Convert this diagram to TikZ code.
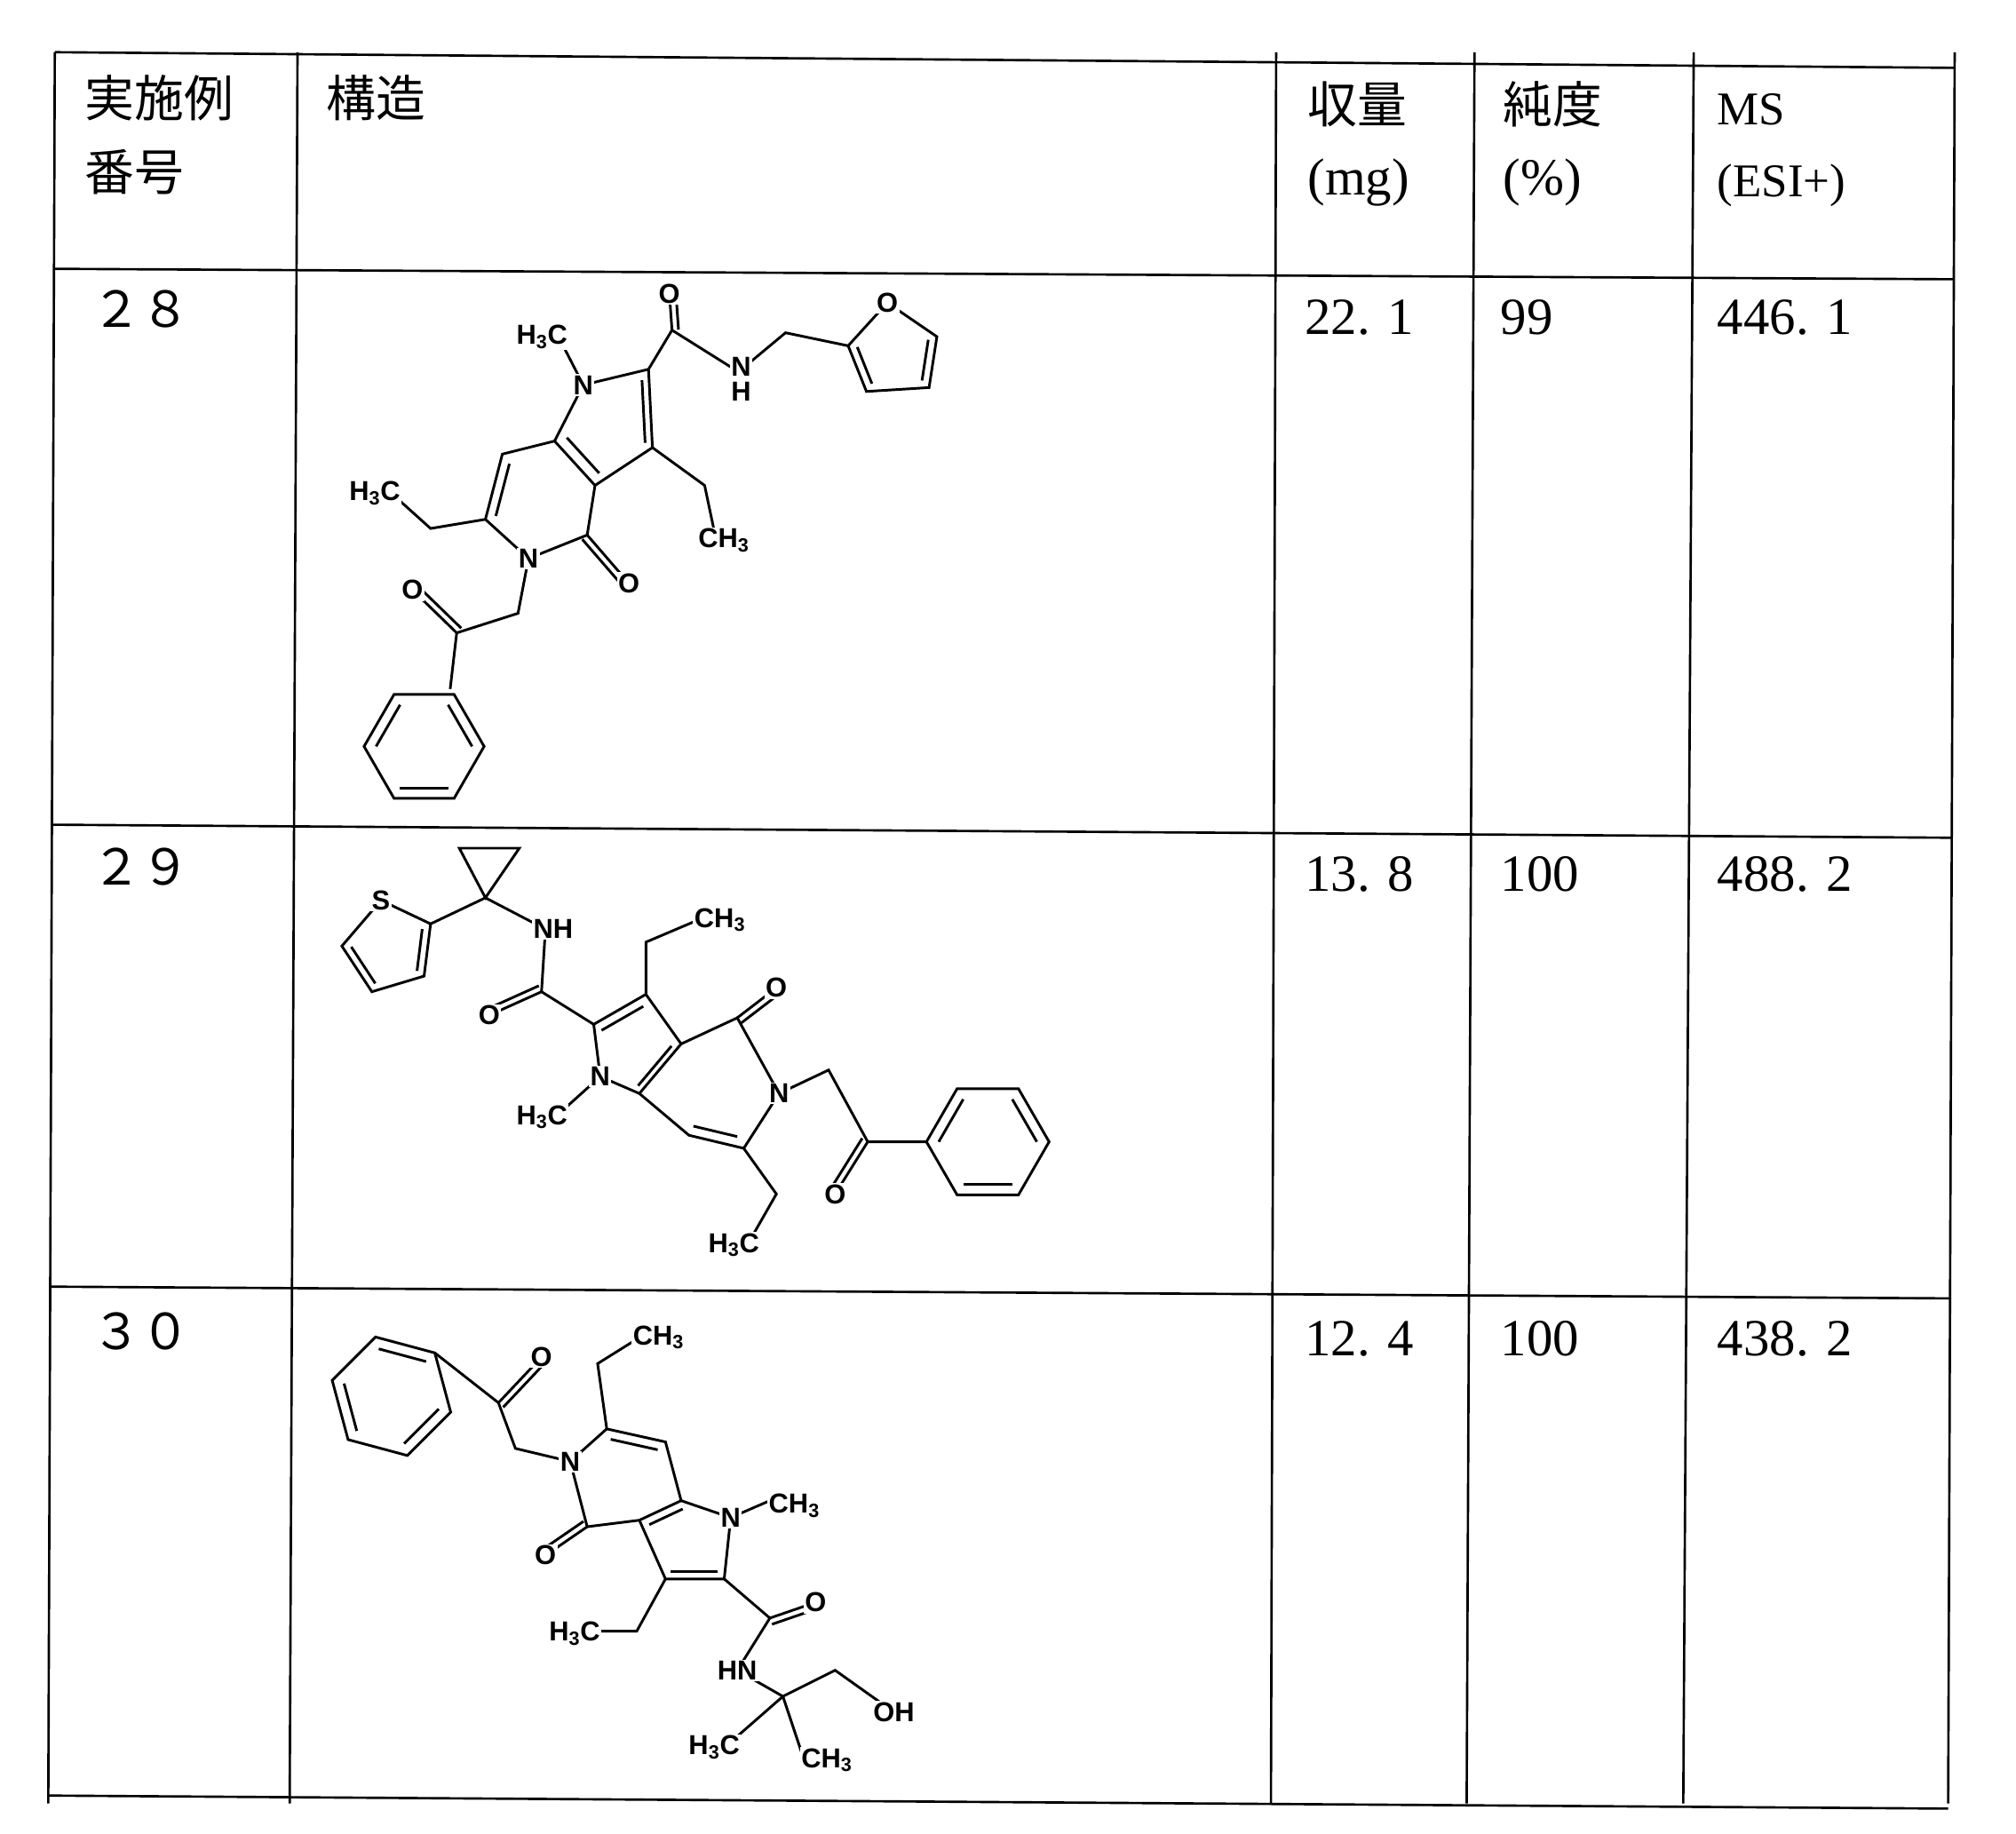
\documentclass[tikz,border=0pt]{standalone}
\usepackage{fontspec}
\setmainfont{Liberation Serif}
\setsansfont{Liberation Sans}
\newfontfamily\cjk{Noto Sans CJK JP}
\usetikzlibrary{calc}
\tikzset{
  grid/.style={line width=1.8pt},
  hdr/.style={anchor=west, inner sep=0pt, font=\cjk\fontsize{38}{40}\selectfont},
  dat/.style={anchor=west, inner sep=0pt, font=\fontsize{40}{42}\selectfont},
  bond/.style={line width=2pt},
  atom/.style={fill=white, inner sep=1pt, font=\sffamily\bfseries\fontsize{21}{22}\selectfont},
}
\newcommand{\dbl}[2]{\draw[bond] ($(#1)!5pt!-90:(#2)$) -- ($(#2)!5pt!90:(#1)$);}
\newcommand{\inner}[3]{\draw[bond] ($(#1)!.2!(#3)$) -- ($(#2)!.2!(#3)$);}
\begin{document}
\begin{tikzpicture}[x=1pt, y=-1pt]
\useasboundingbox[fill=white] (0,0) rectangle (1545,1405);
% table
\draw[grid] (42,40) -- (1498,52);
\draw[grid] (42,206) -- (1497,214);
\draw[grid] (40,632) -- (1496,642);
\draw[grid] (38,986) -- (1494,995);
\draw[grid] (37,1376) -- (1493,1386);
\foreach \xa/\xb in {42/37, 228/222, 978/974, 1130/1124, 1298/1290, 1498/1493}
  \draw[grid] (\xa,40) -- (\xb,1382);
% headings
\node[hdr] (h1) at (65,75) {実施例};
\node[hdr] (h2) at (65,132) {番号};
\node[hdr] (h3) at (250,75) {構造};
\node[hdr] (h4) at (1002,80) {収量};
\node[dat] (h5) at (1002,140) {(mg)};
\node[hdr] (h6) at (1152,80) {純度};
\node[dat] (h7) at (1152,140) {(\%)};
\node[dat, font=\fontsize{36}{38}\selectfont] (h8) at (1316,84) {MS};
\node[dat, font=\fontsize{36}{38}\selectfont] (h9) at (1316,142) {(ESI+)};
% data
\foreach \y/\n/\m/\p/\s in {237/２８/22. 1/99/446. 1, 664/２９/13. 8/100/488. 2, 1020/３０/12. 4/100/438. 2}{
  \node[hdr] at (70,\y) {\n};
  \node[dat] at (1000,\y+6) {\m};
  \node[dat] at (1150,\y+6) {\p};
  \node[dat] at (1316,\y+6) {\s};
}
% ---------- 28
\foreach \n/\x/\y in {aN1/447/295, aC2/497/283, aC3/500/343, aC3a/456/372, aC7a/425/338,
  aC7/385/348, aC6/372/398, aN5/405/428, aC4/450/410, aO4/482/447,
  aMe/430/262, aE1/330/405, aE2/300/378, aCa/515/253, aOa/513/225, aNa/566/285,
  aCH/602/255, aF2/650/265, aF1/680/232, aF5/718/258, aF4/712/297, aF3/664/300,
  aE3/540/372, aE4/548/410, aCb/397/470, aCc/350/485, aOc/316/452, aP1/345/528}
  \coordinate (\n) at (\x,\y);
\draw[bond] (aN1)--(aC2)--(aC3)--(aC3a)--(aC7a)--cycle;
\draw[bond] (aC7a)--(aC7)--(aC6)--(aN5)--(aC4)--(aC3a);
\coordinate (actr) at (472,325); \coordinate (bctr) at (412,385);
\inner{aC2}{aC3}{actr} \inner{aC7}{aC6}{bctr} \inner{aC3a}{aC7a}{actr}
\dbl{aC4}{aO4} \draw[bond] (aC4)--(aO4);
\draw[bond] (aN1)--(aMe) (aC6)--(aE1)--(aE2) (aC2)--(aCa)--(aNa)--(aCH)--(aF2);
\draw[bond] (aCa)--(aOa); \dbl{aCa}{aOa}
\draw[bond] (aF2)--(aF1)--(aF5)--(aF4)--(aF3)--cycle;
\coordinate (fctr) at (685,270); \inner{aF5}{aF4}{fctr} \inner{aF3}{aF2}{fctr}
\draw[bond] (aC3)--(aE3)--(aE4) (aN5)--(aCb)--(aCc)--(aP1);
\draw[bond] (aCc)--(aOc); \dbl{aCc}{aOc}
\foreach \i in {0,...,5} \coordinate (aR\i) at ($(325,572)+(120+60*\i:46)$);
\draw[bond] (aR0)--(aR1)--(aR2)--(aR3)--(aR4)--(aR5)--cycle;
\inner{aR1}{aR2}{325,572} \inner{aR3}{aR4}{325,572} \inner{aR5}{aR0}{325,572}
\node[atom] at (aN1) {N}; \node[atom] at (aN5) {N}; \node[atom] at (aO4) {O};
\node[atom] at (aOa) {O}; \node[atom] at (aOc) {O}; \node[atom] at (aF1) {O};
\node[atom] (aNlab) at ($(aNa)+(2,-4)$) {N};
\node[atom, inner sep=0pt] (aHlab) at ($(aNa)+(2,15)$) {H};
\node[atom, anchor=east] at ($(aMe)+(6,-4)$) {H\textsubscript{3}C};
\node[atom, anchor=east] at ($(aE2)+(8,0)$) {H\textsubscript{3}C};
\node[atom, anchor=west] at ($(aE4)+(-14,4)$) {CH\textsubscript{3}};
% ---------- 29
\foreach \n/\x/\y in {bQ/372/688, bQ1/352/650, bQ2/398/650, bS/292/690, bT2/330/708, bT3/325/748,
  bT4/285/760, bT5/262/725, bNa/418/712, bCa/415/760, bOa/375/778,
  bC2/455/785, bC3/495/762, bC3a/522/800, bC7a/490/838, bN1/460/825, bMe/430/852,
  bE1/495/722, bE2/535/705, bC4/565/780, bO4/595/757, bN5/597/838, bC6/570/880, bC7/528/870,
  bE3/595/915, bE4/575/950, bCb/635/820, bCc/665/875, bOc/640/915, bP1/710/875}
  \coordinate (\n) at (\x,\y);
\draw[bond] (bQ)--(bQ1)--(bQ2)--cycle;
\draw[bond] (bS)--(bT2)--(bT3)--(bT4)--(bT5)--cycle;
\coordinate (tctr) at (298,728); \inner{bT2}{bT3}{tctr} \inner{bT4}{bT5}{tctr}
\draw[bond] (bT2)--(bQ)--(bNa)--(bCa)--(bC2) (bCa)--(bOa); \dbl{bCa}{bOa}
\draw[bond] (bN1)--(bC2)--(bC3)--(bC3a)--(bC7a)--cycle;
\coordinate (cctr) at (485,808); \inner{bC2}{bC3}{cctr} \inner{bC3a}{bC7a}{cctr}
\draw[bond] (bC3a)--(bC4)--(bN5)--(bC6)--(bC7)--(bC7a);
\coordinate (dctr) at (545,835); \inner{bC6}{bC7}{dctr}
\draw[bond] (bC4)--(bO4); \dbl{bC4}{bO4}
\draw[bond] (bN1)--(bMe) (bC3)--(bE1)--(bE2) (bC6)--(bE3)--(bE4);
\draw[bond] (bN5)--(bCb)--(bCc)--(bP1) (bCc)--(bOc); \dbl{bCc}{bOc}
\foreach \i in {0,...,5} \coordinate (bR\i) at ($(757,875)+(180+60*\i:47)$);
\draw[bond] (bR0)--(bR1)--(bR2)--(bR3)--(bR4)--(bR5)--cycle;
\inner{bR0}{bR1}{757,875} \inner{bR2}{bR3}{757,875} \inner{bR4}{bR5}{757,875}
\node[atom] at (bS) {S}; \node[atom] at (bOa) {O}; \node[atom] at (bO4) {O};
\node[atom] at (bOc) {O}; \node[atom] at (bN1) {N}; \node[atom] at (bN5) {N};
\node[atom] at ($(bNa)+(6,0)$) {NH};
\node[atom, anchor=east] at ($(bMe)+(6,4)$) {H\textsubscript{3}C};
\node[atom, anchor=west] at ($(bE2)+(-4,0)$) {CH\textsubscript{3}};
\node[atom, anchor=east] at ($(bE4)+(8,4)$) {H\textsubscript{3}C};
% ---------- 30
\foreach \n/\x/\y in {cP1/345/1055, cCc/382/1075, cOc/415/1040, cCb/395/1110, cN5/437/1120,
  cC6/465/1095, cC7/510/1105, cC7a/522/1150, cN1/560/1163, cMe/590/1150, cC2/555/1210,
  cC3/510/1210, cC3a/490/1165, cC4/450/1170, cO4/418/1192, cE1/458/1045, cE2/490/1025,
  cE3/488/1250, cE4/455/1250, cCa/590/1240, cOa/625/1228, cNa/565/1280, cQ/600/1300,
  cCH/640/1280, cOH/685/1312, cM1/560/1335, cM2/615/1345}
  \coordinate (\n) at (\x,\y);
\foreach \i in {0,...,5} \coordinate (cR\i) at ($(300,1070)+(15+60*\i:47)$);
\draw[bond] (cR0)--(cR1)--(cR2)--(cR3)--(cR4)--(cR5)--cycle;
\inner{cR0}{cR1}{300,1070} \inner{cR2}{cR3}{300,1070} \inner{cR4}{cR5}{300,1070}
\draw[bond] (cR5)--(cCc)--(cCb)--(cN5) (cCc)--(cOc); \dbl{cCc}{cOc}
\draw[bond] (cN5)--(cC6)--(cC7)--(cC7a)--(cC3a)--(cC4)--cycle;
\coordinate (ectr) at (480,1135); \inner{cC6}{cC7}{ectr}
\draw[bond] (cC7a)--(cN1)--(cC2)--(cC3)--(cC3a);
\coordinate (gctr) at (528,1182); \inner{cC2}{cC3}{gctr} \inner{cC3a}{cC7a}{gctr}
\draw[bond] (cC4)--(cO4); \dbl{cC4}{cO4}
\draw[bond] (cN1)--(cMe) (cC6)--(cE1)--(cE2) (cC3)--(cE3)--(cE4);
\draw[bond] (cC2)--(cCa)--(cNa)--(cQ)--(cCH)--(cOH) (cQ)--(cM1) (cQ)--(cM2) (cCa)--(cOa);
\dbl{cCa}{cOa}
\node[atom] at (cOc) {O}; \node[atom] at (cN5) {N}; \node[atom] at (cN1) {N};
\node[atom] at (cO4) {O}; \node[atom] at (cOa) {O};
\node[atom, anchor=west] at ($(cMe)+(-2,4)$) {CH\textsubscript{3}};
\node[atom, anchor=west] at ($(cE2)+(-6,0)$) {CH\textsubscript{3}};
\node[atom, anchor=east] at ($(cE4)+(6,2)$) {H\textsubscript{3}C};
\node[atom] at (cNa) {HN}; \node[atom] at (cOH) {OH};
\node[atom, anchor=east] at ($(cM1)+(8,4)$) {H\textsubscript{3}C};
\node[atom, anchor=west] at ($(cM2)+(-2,4)$) {CH\textsubscript{3}};
\end{tikzpicture}
\end{document}
